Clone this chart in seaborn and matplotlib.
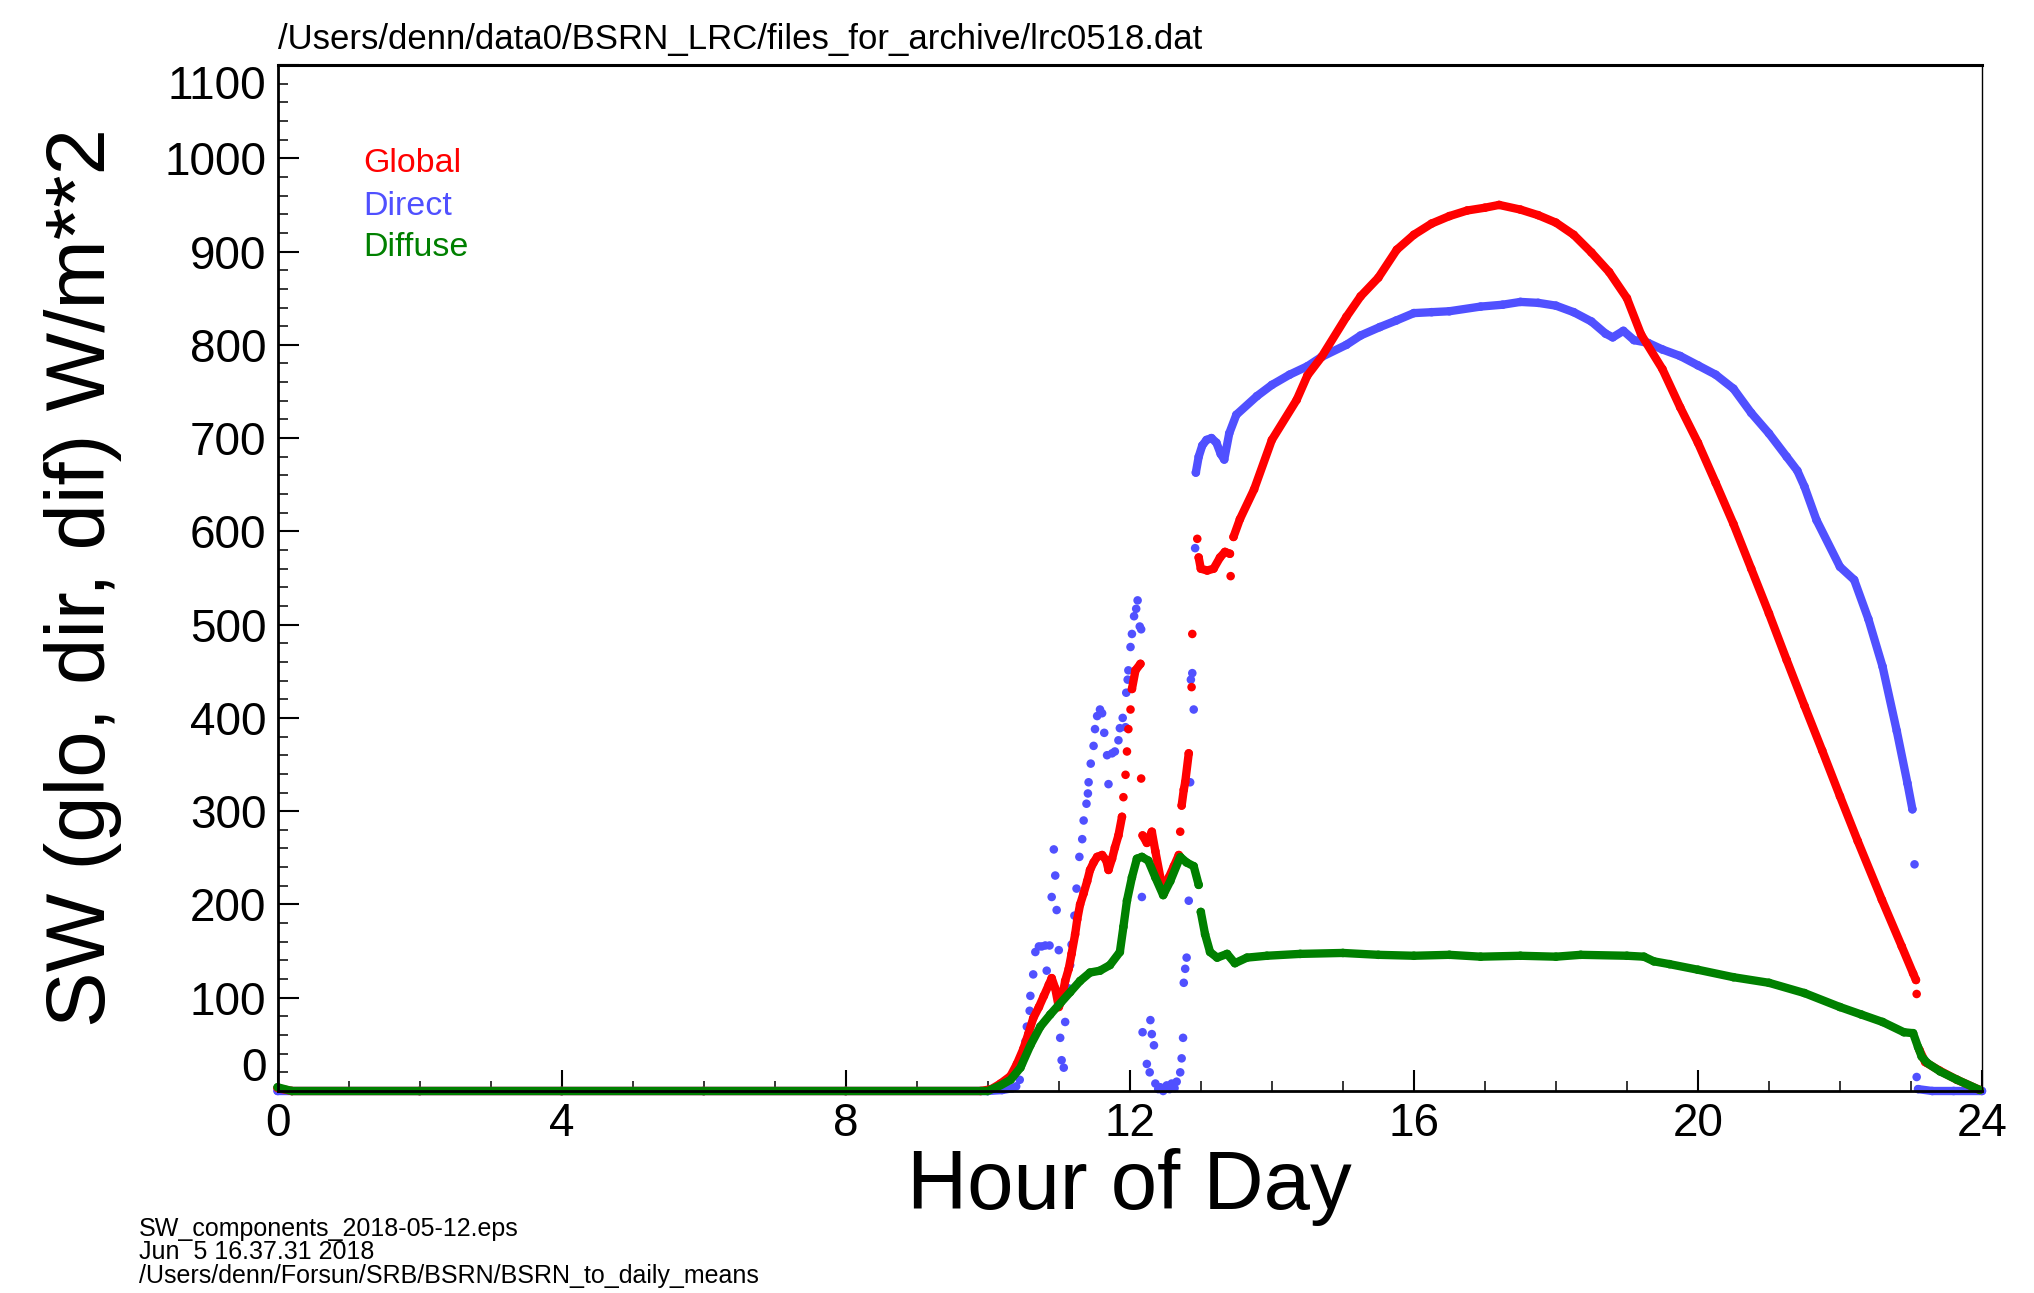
import numpy as np
import pandas as pd
import matplotlib
matplotlib.use("Agg")
import matplotlib.pyplot as plt
from matplotlib.ticker import MultipleLocator
import seaborn as sns

# ---------------- data ----------------
global_hours = [0.0, 0.2, 2.0, 4.0, 6.0, 8.0, 9.9, 10.05, 10.18, 10.32, 10.41, 10.50, 10.57, 10.64,
                10.72, 10.79, 10.86, 10.90, 10.95, 11.00, 11.04, 11.09, 11.14, 11.18, 11.23,
                11.26, 11.30, 11.35, 11.40, 11.44, 11.49, 11.54, 11.61, 11.67, 11.70, 11.75,
                11.79, 11.84, 11.89, 11.91, 11.94, 11.96, 11.98, 12.01, 12.03, 12.08, 12.15,
                12.16, 12.18, 12.24, 12.31, 12.36, 12.43, 12.48, 12.55, 12.62, 12.69, 12.71,
                12.73, 12.76, 12.78, 12.83, 12.87, 12.88, 12.95, 12.97, 13.00, 13.09, 13.18,
                13.27, 13.34, 13.41, 13.42, 13.46, 13.55, 13.75, 14.0, 14.35, 14.5, 14.7,
                15.05, 15.25, 15.5, 15.76, 16.0, 16.25, 16.5, 16.75, 17.0, 17.2, 17.5, 17.75,
                18.0, 18.25, 18.5, 18.75, 19.0, 19.2, 19.5, 19.75, 20.0, 20.25, 20.5, 20.75,
                21.0, 21.25, 21.5, 21.75, 22.0, 22.25, 22.59, 22.87, 23.03, 23.07, 23.08,
                23.12, 23.2, 23.4, 23.65, 23.97]
global_values = [3, 0, 0, 0, 0, 0, 0, 2, 8, 16, 29, 45, 61, 78,
                 90, 102, 114, 121, 110, 90, 98, 118, 131, 147, 168,
                 184, 200, 212, 225, 237, 245, 251, 253, 247, 237, 249,
                 261, 274, 294, 315, 339, 364, 388, 409, 431, 451, 458,
                 335, 274, 266, 278, 257, 229, 212, 229, 241, 253, 278,
                 306, 323, 331, 362, 433, 490, 592, 572, 560, 558, 560,
                 572, 578, 576, 552, 594, 613, 645, 698, 741, 767, 787,
                 830, 852, 872, 902, 918, 930, 938, 944, 947, 950, 945, 939,
                 931, 918, 899, 878, 850, 811, 774, 733, 695, 652, 608, 560,
                 512, 462, 413, 365, 316, 268, 205, 155, 126, 119, 104,
                 44, 31, 22, 12, 1]

direct_hours = [0.0, 2.0, 4.0, 6.0, 8.0, 10.0, 10.2, 10.35, 10.40, 10.45, 10.48, 10.53, 10.55,
                10.59, 10.60, 10.64, 10.67, 10.72, 10.76, 10.81, 10.83, 10.87, 10.90, 10.93,
                10.95, 10.97, 11.00, 11.02, 11.04, 11.07, 11.09, 11.14, 11.16, 11.18, 11.22,
                11.25, 11.29, 11.33, 11.35, 11.39, 11.41, 11.42, 11.45, 11.49, 11.51, 11.54,
                11.58, 11.61, 11.64, 11.68, 11.70, 11.75, 11.79, 11.84, 11.86, 11.90, 11.94,
                11.95, 11.97, 11.98, 12.01, 12.03, 12.06, 12.09, 12.11, 12.14, 12.16, 12.17,
                12.18, 12.24, 12.28, 12.29, 12.31, 12.34, 12.36, 12.40, 12.43, 12.47, 12.52,
                12.56, 12.59, 12.63, 12.66, 12.71, 12.73, 12.75, 12.76, 12.78, 12.80, 12.83,
                12.85, 12.86, 12.88, 12.90, 12.92, 12.93, 12.97, 13.02, 13.08, 13.15, 13.22,
                13.28, 13.33, 13.40, 13.5, 13.79, 14.0, 14.25, 14.5, 14.7, 15.05, 15.25,
                15.52, 15.75, 16.0, 16.25, 16.5, 16.94, 17.25, 17.5, 17.75, 18.0, 18.25,
                18.5, 18.7, 18.8, 18.95, 19.1, 19.3, 19.5, 19.75, 20.0, 20.25, 20.5, 20.75,
                21.0, 21.25, 21.4, 21.5, 21.67, 22.0, 22.2, 22.4, 22.6, 22.8, 22.95, 23.02,
                23.05, 23.08, 23.1, 23.3, 23.6, 24.0]
direct_values = [0, 0, 0, 0, 0, 0, 1, 3, 5, 12, 29, 53, 69,
                 86, 102, 125, 149, 155, 155, 156, 129, 156, 208, 259,
                 231, 194, 151, 57, 33, 25, 74, 110, 135, 157, 188,
                 217, 251, 270, 290, 308, 319, 331, 351, 370, 388, 402,
                 409, 405, 384, 360, 329, 362, 364, 376, 389, 400, 390,
                 427, 441, 451, 476, 490, 509, 517, 526, 498, 495, 208,
                 63, 29, 20, 76, 61, 49, 8, 2, 4, 0, 6,
                 2, 8, 3, 10, 20, 35, 57, 116, 131, 143, 204,
                 331, 441, 448, 409, 582, 663, 680, 692, 698, 700, 695,
                 683, 677, 705, 725, 745, 757, 768, 777, 787, 800, 810,
                 819, 826, 834, 835, 836, 841, 843, 846, 845, 842, 835,
                 825, 812, 808, 815, 805, 802, 795, 788, 778, 768, 753, 727,
                 705, 680, 665, 648, 612, 562, 548, 506, 455, 386, 330, 302,
                 243, 15, 2, 0, 0, 0]

diffuse_hours = [0.0, 0.2, 2.0, 4.0, 6.0, 8.0, 10.0, 10.18, 10.32, 10.46, 10.6, 10.74, 10.88, 11.02,
                 11.16, 11.30, 11.44, 11.58, 11.72, 11.86, 11.91, 11.96, 12.03, 12.10, 12.17,
                 12.26, 12.36, 12.47, 12.57, 12.71, 12.80, 12.90, 12.97, 13.0, 13.06, 13.13,
                 13.23, 13.37, 13.48, 13.65, 13.93, 14.4, 15.0, 15.5, 16.0, 16.5, 16.94, 17.5,
                 18.0, 18.35, 19.0, 19.24, 19.38, 19.6, 20.0, 20.5, 21.0, 21.5, 22.0, 22.3,
                 22.6, 22.9, 23.03, 23.1, 23.15, 23.23, 23.41, 23.65, 23.97]
diffuse_values = [4, 0, 0, 0, 0, 0, 0, 6, 12, 25, 49, 69, 82, 94,
                  106, 118, 127, 129, 135, 149, 176, 204, 229, 249, 251,
                  247, 229, 210, 225, 251, 245, 241, 221, 192, 168, 149,
                  143, 147, 137, 143, 145, 147, 148, 146, 145, 146, 144, 145,
                  144, 146, 145, 144, 139, 136, 130, 122, 116, 105, 90, 82,
                  74, 63, 62, 47, 37, 30, 21, 12, 1]

series_names = ["Direct", "Global", "Diffuse"]   # drawing order (bottom to top)
legend_order = ["Global", "Direct", "Diffuse"]
colors = {"Global": "#ff0000", "Direct": "#5050ff", "Diffuse": "#008000"}

x_ticks = [0, 4, 8, 12, 16, 20, 24]
y_ticks = list(range(0, 1101, 100))

title_text = "/Users/denn/data0/BSRN_LRC/files_for_archive/lrc0518.dat"
footer_lines = ["SW_components_2018-05-12.eps",
                "Jun  5 16.37.31 2018",
                "/Users/denn/Forsun/SRB/BSRN/BSRN_to_daily_means"]

# ---------------- build tables ----------------
data = {"Global": (global_hours, global_values),
        "Direct": (direct_hours, direct_values),
        "Diffuse": (diffuse_hours, diffuse_values)}
dots_only = {"Direct": (10.3, 12.935)}


def make_frame(name):
    h, v = data[name]
    h = np.asarray(h, float)
    v = np.asarray(v, float)
    seg = np.zeros(len(h), int)
    s = 0
    win = dots_only.get(name)
    for i in range(1, len(h)):
        dt = h[i] - h[i - 1]
        dv = abs(v[i] - v[i - 1])
        connect = dt > 0 and dv / dt < 620
        if win is not None and h[i - 1] >= win[0] and h[i] <= win[1]:
            connect = False
        if not connect:
            s += 1
        seg[i] = s
    return pd.DataFrame({"hour": h, "value": v, "seg": seg, "series": name})


# ---------------- figure ----------------
sns.set_theme(style="white")
plt.rcParams["font.family"] = ["Liberation Sans", "DejaVu Sans"]

W, H = 2034, 1293
fig = plt.figure(figsize=(W / 100, H / 100), dpi=100)
ax_l, ax_r, ax_t, ax_b = 277.6, 1982, 65, 1091
ax = fig.add_axes([ax_l / W, 1 - ax_b / H, (ax_r - ax_l) / W, (ax_b - ax_t) / H])

for name in series_names:
    df = make_frame(name)
    c = colors[name]
    sns.lineplot(data=df, x="hour", y="value", units="seg", estimator=None, sort=False,
                 color=c, linewidth=6.0, solid_capstyle="round", solid_joinstyle="round",
                 ax=ax, legend=False, clip_on=False)
    sns.scatterplot(data=df, x="hour", y="value", color=c, s=38, edgecolor="none",
                    linewidth=0, ax=ax, legend=False, clip_on=False)

ax.set_xlim(0, 24)
ax.set_ylim(0, 1100)
ax.set_xticks(x_ticks)
ax.set_xticklabels([str(t) for t in x_ticks])
ax.set_yticks(y_ticks)
ax.set_yticklabels([str(t) for t in y_ticks])
ax.xaxis.set_minor_locator(MultipleLocator(1))
ax.yaxis.set_minor_locator(MultipleLocator(20))
ax.tick_params(axis="both", which="major", direction="in", length=15, width=1.5,
               labelsize=33, colors="black", pad=8, top=False, right=False,
               bottom=True, left=True)
ax.tick_params(axis="both", which="minor", direction="in", length=7.5, width=1.3,
               top=False, right=False, bottom=True, left=True)

for side, lw in (("left", 2.0), ("bottom", 2.0), ("top", 2.2), ("right", 1.0)):
    ax.spines[side].set_visible(True)
    ax.spines[side].set_color("black")
    ax.spines[side].set_linewidth(lw)

ax.set_xlabel("Hour of Day", fontsize=60, color="black")
ax.xaxis.set_label_coords(0.5, -0.056)
ax.set_ylabel("SW (glo, dir, dif) W/m**2", fontsize=60, color="black")
ax.yaxis.set_label_coords((122 - ax_l) / (ax_r - ax_l), 0.5)

# keep extreme y labels inside the axis span like the original
yt = ax.yaxis.get_major_ticks()
yt[0].label1.set_va("bottom")
yt[-1].label1.set_va("top")

# legend as coloured text
legend_y = [994, 948, 904]
for name, yv in zip(legend_order, legend_y):
    ax.text(1.2, yv, name, color=colors[name], fontsize=24.5, va="center", ha="left")

ax.text(0, 1 + (ax_t - 49) / (ax_b - ax_t), title_text, transform=ax.transAxes,
        fontsize=25, ha="left", va="baseline", color="black")

footer_base = [1236, 1259, 1283]
for line, yb in zip(footer_lines, footer_base):
    fig.text(139 / W, 1 - yb / H, line, fontsize=18, ha="left", va="baseline", color="black")

fig.savefig("out.png", dpi=100, facecolor="white")
